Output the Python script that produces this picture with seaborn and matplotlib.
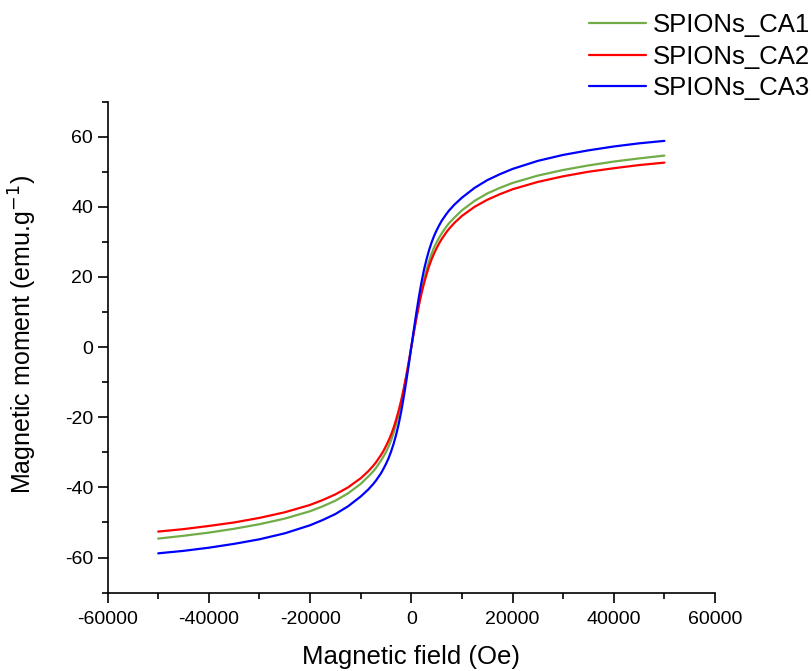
import numpy as np
import pandas as pd
import matplotlib
matplotlib.use('Agg')
import matplotlib.pyplot as plt
from matplotlib.ticker import MultipleLocator
import seaborn as sns

# field values (Oe)
field = [-50000, -45000, -40000, -35000, -30000, -25000, -20000, -17500, -15000, -12500,
         -10000, -8500, -7500, -7000, -6000, -5500, -5000, -4500, -4000, -3500,
         -3000, -2500, -2000, -1500, -1000, -500,
         0,
         500, 1000, 1500, 2000, 2500, 3000, 3500, 4000, 4500, 5000,
         5500, 6000, 7000, 7500, 8500, 10000, 12500, 15000, 17500, 20000,
         25000, 30000, 35000, 40000, 45000, 50000]

# magnetic moment (emu/g)
ca1 = [-54.6, -53.8, -52.9, -51.8, -50.5, -48.9, -46.8, -45.4, -43.8, -41.7,
       -39.0, -36.9, -35.4, -34.5, -32.4, -31.2, -29.9, -28.4, -26.6, -24.5,
       -22.0, -19.2, -16.0, -12.2, -8.4, -4.3,
       0.0,
       4.3, 8.4, 12.2, 16.0, 19.2, 22.0, 24.5, 26.6, 28.4, 29.9,
       31.2, 32.4, 34.5, 35.4, 36.9, 39.0, 41.7, 43.8, 45.4, 46.8,
       48.9, 50.5, 51.8, 52.9, 53.8, 54.6]
ca2 = [-52.6, -51.9, -51.0, -50.0, -48.7, -47.1, -45.0, -43.6, -42.0, -40.0,
       -37.4, -35.4, -33.8, -32.9, -30.8, -29.6, -28.2, -26.7, -25.0, -23.0,
       -20.7, -18.1, -15.2, -11.9, -8.2, -4.2,
       0.0,
       4.2, 8.2, 11.9, 15.2, 18.1, 20.7, 23.0, 25.0, 26.7, 28.2,
       29.6, 30.8, 32.9, 33.8, 35.4, 37.4, 40.0, 42.0, 43.6, 45.0,
       47.1, 48.7, 50.0, 51.0, 51.9, 52.6]
ca3 = [-58.8, -58.1, -57.2, -56.1, -54.8, -53.1, -50.8, -49.3, -47.6, -45.4,
       -42.6, -40.6, -39.0, -38.1, -36.0, -34.7, -33.3, -31.7, -29.8, -27.6,
       -25.0, -22.0, -18.4, -14.3, -9.8, -5.0,
       0.0,
       5.0, 9.8, 14.3, 18.4, 22.0, 25.0, 27.6, 29.8, 31.7, 33.3,
       34.7, 36.0, 38.1, 39.0, 40.6, 42.6, 45.4, 47.6, 49.3, 50.8,
       53.1, 54.8, 56.1, 57.2, 58.1, 58.8]

names = ['SPIONs_CA1', 'SPIONs_CA2', 'SPIONs_CA3']
colors = ['#70AD47', '#FF0000', '#0000FF']

df = pd.concat([
    pd.DataFrame({'field': field, 'moment': m, 'sample': n})
    for m, n in zip([ca1, ca2, ca3], names)
])

sns.set_style('ticks')
plt.rcParams['font.family'] = ['Liberation Sans', 'DejaVu Sans']
plt.rcParams['axes.unicode_minus'] = False
plt.rcParams['text.color'] = 'black'
plt.rcParams['axes.labelcolor'] = 'black'

fig = plt.figure(figsize=(8.11, 6.71), dpi=100)
ax = fig.add_axes([107.6 / 811, 1 - 592.6 / 671, (715 - 107.6) / 811, (592.6 - 101.6) / 671])

sns.lineplot(data=df, x='field', y='moment', hue='sample', palette=colors,
             linewidth=1.6, ax=ax, sort=False, legend=False)

ax.set_xlim(-60000, 60000)
ax.set_ylim(-70, 70)
ax.xaxis.set_major_locator(MultipleLocator(20000))
ax.xaxis.set_minor_locator(MultipleLocator(10000))
ax.yaxis.set_major_locator(MultipleLocator(20))
ax.yaxis.set_minor_locator(MultipleLocator(10))
ax.tick_params(which='major', length=7, width=1.2, labelsize=14, color='black', labelcolor='black')
ax.tick_params(axis='x', which='major', pad=6.5)
ax.tick_params(which='minor', length=4, width=1.2, color='black')
for s in ['top', 'right']:
    ax.spines[s].set_visible(False)
for s in ['left', 'bottom']:
    ax.spines[s].set_linewidth(1.2)
    ax.spines[s].set_color('black')

ax.set_xlabel('Magnetic field (Oe)', fontsize=18.5, labelpad=12)
ax.set_ylabel('Magnetic moment (emu.g$^{-1}$)', fontsize=18)
ax.yaxis.set_label_coords(-0.113, 0.525)

handles = [plt.Line2D([], [], color=c, lw=1.6) for c in colors]
fig.legend(handles, names, loc='upper left', bbox_to_anchor=(589 / 811, 1 - 13 / 671),
           frameon=False, fontsize=18.5, borderpad=0, borderaxespad=0,
           handlelength=2.2, handletextpad=0.27, labelspacing=0.3)

fig.savefig('out.png', dpi=100)
